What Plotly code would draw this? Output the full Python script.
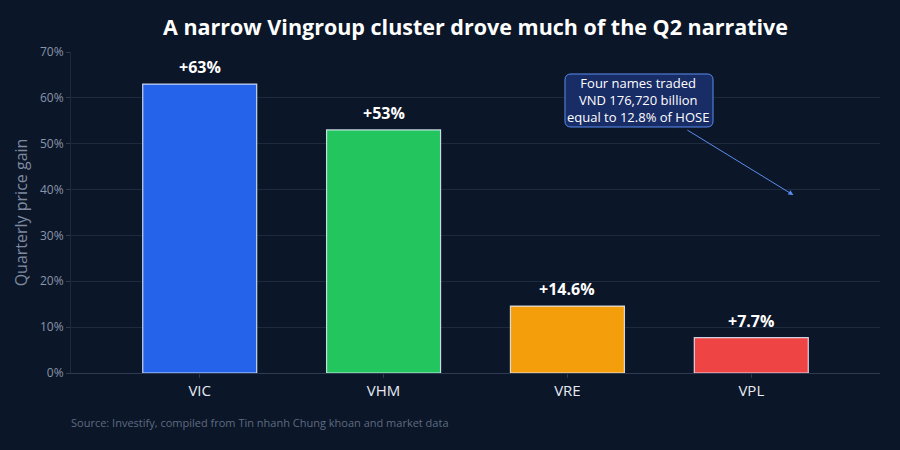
import plotly.graph_objects as go

tickers = ["VIC", "VHM", "VRE", "VPL"]
gains = [63, 53, 14.6, 7.7]
labels = ["+63%", "+53%", "+14.6%", "+7.7%"]
colors = ["#2563eb", "#22c55e", "#f59e0b", "#ef4444"]
y_ticks = [0, 10, 20, 30, 40, 50, 60, 70]
y_tick_labels = [f"{v}%" for v in y_ticks]

BG = "#0b1628"
FONT = "Open Sans"

fig = go.Figure()
fig.add_trace(go.Bar(
    x=tickers, y=gains, width=0.62,
    marker=dict(color=colors, line=dict(color="rgba(230,238,255,0.85)", width=1.2)),
    hoverinfo="skip",
))

for t, g, lab in zip(tickers, gains, labels):
    fig.add_annotation(
        x=t, y=g, xref="x", yref="y", text=lab, showarrow=False,
        yanchor="bottom", yshift=4,
        font=dict(color="#ffffff", size=16, family=FONT, weight="bold"),
    )

# rounded callout box (decoration behind the annotation text)
x0, x1, y0, y1 = 0.6106, 0.7936, 0.7664, 0.9315
rx, ry = 6 / 809, 6 / 321
path = (f"M {x0+rx},{y0} L {x1-rx},{y0} Q {x1},{y0} {x1},{y0+ry} "
        f"L {x1},{y1-ry} Q {x1},{y1} {x1-rx},{y1} L {x0+rx},{y1} "
        f"Q {x0},{y1} {x0},{y1-ry} L {x0},{y0+ry} Q {x0},{y0} {x0+rx},{y0} Z")
fig.add_shape(type="path", path=path, xref="paper", yref="paper",
              fillcolor="#182c66", line=dict(color="#5b8def", width=1), layer="above")

fig.add_annotation(
    x=3.229, y=38.8, xref="x", yref="y",
    ax=-155, ay=-95, axref="pixel", ayref="pixel",
    text="Four names traded<br>VND 176,720 billion<br>equal to 12.8% of HOSE",
    showarrow=True, arrowhead=2, arrowsize=1, arrowwidth=1, arrowcolor="#5b8def",
    font=dict(color="#ffffff", size=13, family=FONT),
    bgcolor="rgba(0,0,0,0)", borderwidth=0, borderpad=4,
    align="center",
)

fig.add_annotation(
    x=0, y=-0.155, xref="paper", yref="paper", xanchor="left", yanchor="middle", xshift=-2,
    text="Source: Investify, compiled from Tin nhanh Chung khoan and market data",
    showarrow=False, font=dict(color="#5f6b80", size=11, family=FONT),
)

fig.update_layout(
    width=900, height=450,
    paper_bgcolor=BG, plot_bgcolor=BG,
    margin=dict(l=71, r=20, t=52, b=77),
    title=dict(text="A narrow Vingroup cluster drove much of the Q2 narrative",
               x=0.5, xref="paper", xanchor="center", y=0.94, yanchor="middle",
               font=dict(color="#ffffff", size=21.5, family=FONT, weight="bold")),
    showlegend=False,
    font=dict(family=FONT),
)
fig.update_xaxes(
    range=[-0.7, 3.7], showgrid=False, showline=True, linecolor="#2e3b52", linewidth=1,
    tickfont=dict(color="#e6ebf2", size=15, family=FONT),
    ticks="outside", ticklen=4, tickcolor="#2e3b52",
)
fig.update_yaxes(
    range=[0, 70], tickvals=y_ticks, ticktext=y_tick_labels,
    showgrid=True, gridcolor="#1d2a3e", gridwidth=1, zeroline=False,
    ticks="outside", ticklen=4, tickcolor="#2e3b52",
    showline=True, linecolor="#1d2a3e",
    tickfont=dict(color="#8a95a8", size=12, family=FONT),
    title=dict(text="Quarterly price gain", font=dict(color="#7f8aa0", size=16, family=FONT), standoff=8),
)

fig.write_html("out.html")
